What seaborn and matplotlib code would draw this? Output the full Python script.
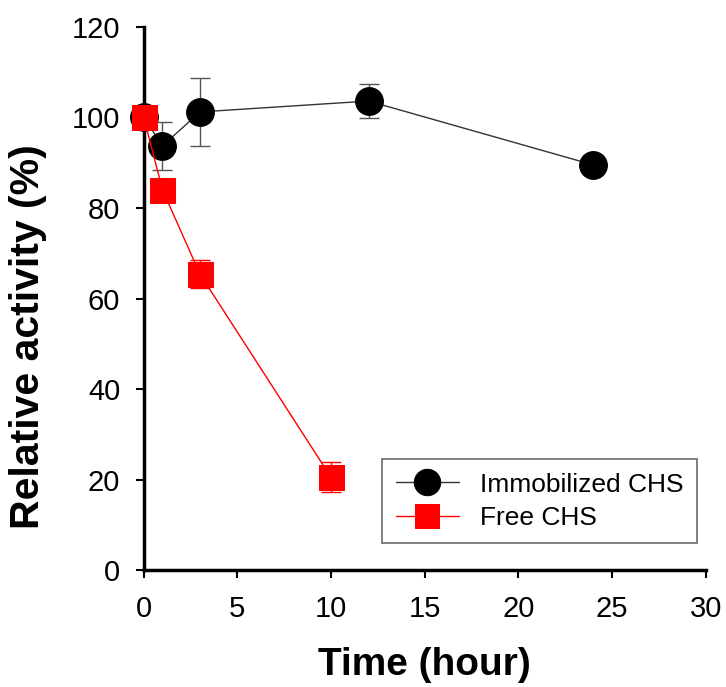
import numpy as np
import pandas as pd
import seaborn as sns
import matplotlib.pyplot as plt

# data
imm_time = [0, 1, 3, 12, 24]
imm_act = [100, 93.7, 101.2, 103.6, 89.5]
imm_err = [0, 5.3, 7.6, 3.7, 1.0]

free_time = [0, 1, 3, 10]
free_act = [100, 84.0, 65.4, 20.5]
free_err = [0, 1.2, 3.1, 3.3]

sns.set_style("ticks")
plt.rcParams['font.family'] = ['Liberation Sans', 'DejaVu Sans']
plt.rcParams['text.color'] = 'black'
plt.rcParams['axes.labelcolor'] = 'black'
plt.rcParams['xtick.color'] = 'black'
plt.rcParams['ytick.color'] = 'black'

df_imm = pd.DataFrame({'Time': imm_time, 'Activity': imm_act})
df_free = pd.DataFrame({'Time': free_time, 'Activity': free_act})

fig = plt.figure(figsize=(7.26, 6.87), dpi=100)
ax = fig.add_axes([0.198, 0.170, 0.774, 0.791])

# error bars first (under the markers)
ax.errorbar(imm_time, imm_act, yerr=imm_err, fmt='none', ecolor='#555555',
            elinewidth=1, capsize=7, capthick=1, zorder=2)
ax.errorbar(free_time, free_act, yerr=free_err, fmt='none', ecolor='red',
            elinewidth=1, capsize=7, capthick=1, zorder=2)

sns.lineplot(data=df_imm, x='Time', y='Activity', ax=ax, color='#333333',
             linewidth=1, marker='o', markersize=20, markerfacecolor='black',
             markeredgecolor='black', label='Immobilized CHS', zorder=3)
sns.lineplot(data=df_free, x='Time', y='Activity', ax=ax, color='red',
             linewidth=1, marker='s', markersize=18, markerfacecolor='red',
             markeredgecolor='red', label='Free CHS', zorder=4)

ax.set_xlim(0, 30)
ax.set_ylim(0, 120)
ax.set_xticks(np.arange(0, 31, 5))
ax.set_yticks(np.arange(0, 121, 20))
ax.tick_params(axis='both', labelsize=21, width=1.5, length=6, direction='out')
ax.tick_params(axis='x', pad=12)
ax.tick_params(axis='y', pad=11)

for s in ['top', 'right']:
    ax.spines[s].set_visible(False)
for s in ['left', 'bottom']:
    ax.spines[s].set_linewidth(2.5)
    ax.spines[s].set_color('black')

ax.set_xlabel('Time (hour)', fontsize=28, fontweight='bold', labelpad=17)
ax.set_ylabel('Relative activity (%)', fontsize=29.5, fontweight='bold')
ax.yaxis.set_label_coords(-0.172, 0.43)

leg = ax.legend(loc='lower right', bbox_to_anchor=(0.984, 0.05), borderaxespad=0,
                fontsize=19, frameon=True, fancybox=False, edgecolor='#444444',
                handlelength=2.4, borderpad=0.5, labelspacing=0.35,
                handletextpad=0.8, markerscale=0.95)
leg.get_frame().set_linewidth(1.2)

for line in ax.lines:
    line.set_clip_on(False)

fig.savefig('out.png', dpi=100)
